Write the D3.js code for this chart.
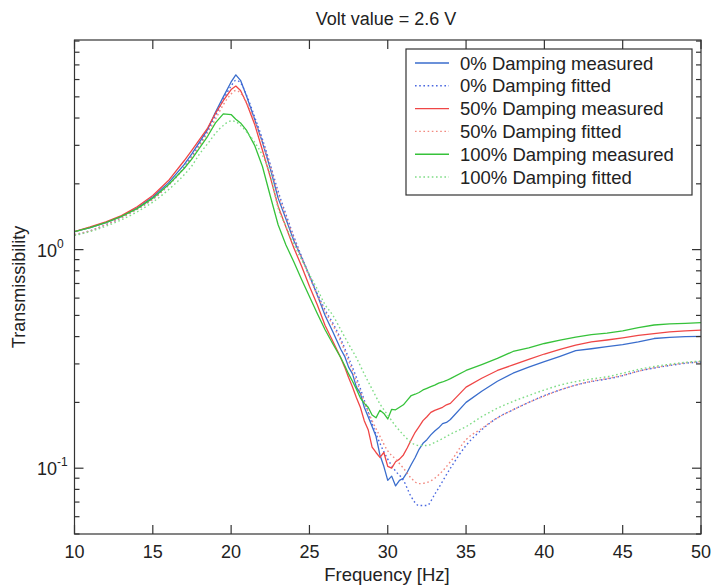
<!DOCTYPE html>
<html><head><meta charset="utf-8">
<script src="https://cdn.jsdelivr.net/npm/d3@7"></script>
<style>
body{margin:0;background:#fff;}
text{font-family:"Liberation Sans",Arial,Helvetica,sans-serif;fill:#222;}
</style></head>
<body><svg id="c" width="712" height="588"></svg>
<script>
const title = "Volt value = 2.6 V";
const xLabel = "Frequency [Hz]";
const yLabel = "Transmissibility";
const xTicks = [10,15,20,25,30,35,40,45,50];
const yMajor = [0.1, 1];
const yMinor = [0.05,0.06,0.07,0.08,0.09,0.2,0.3,0.4,0.5,0.6,0.7,0.8,0.9,2,3,4,5,6,7,8,9];

// frequencies for fitted curves
const freqF = [10,11,12,13,14,15,16,17,17.5,18,18.5,19,19.5,20,20.3,20.6,21,21.5,22,22.5,23,23.5,24,24.5,25,25.5,26,26.5,27,27.5,28,28.5,29,29.5,30,30.5,31,31.5,32,32.5,33,34,35,36,37,38,39,40,41,42,43,44,45,46,47,48,49,50];
// frequencies for measured curves (denser through the trough)
const freqM = [10,11,12,13,14,15,16,17,17.5,18,18.5,19,19.5,20,20.3,20.6,21,21.5,22,22.5,23,23.5,24,24.5,25,25.5,26,26.5,27,27.25,27.5,27.75,28,28.25,28.5,28.75,29,29.25,29.5,29.75,30,30.25,30.5,30.75,31,31.25,31.5,31.75,32,32.25,32.5,32.75,33,33.25,33.5,33.75,34,35,36,37,38,39,40,41,42,43,44,45,46,47,48,49,50];

const blueMeasured = [1.21,1.26,1.33,1.42,1.55,1.74,2.02,2.45,2.75,3.12,3.55,4.25,5.0,5.85,6.3,5.95,5.0,3.95,3.1,2.35,1.72,1.38,1.1,0.92,0.76,0.62,0.50,0.42,0.35,0.325,0.29,0.27,0.235,0.22,0.19,0.172,0.155,0.14,0.115,0.102,0.088,0.092,0.083,0.088,0.09,0.096,0.104,0.112,0.122,0.13,0.135,0.142,0.148,0.153,0.16,0.162,0.167,0.2,0.225,0.25,0.272,0.29,0.307,0.325,0.345,0.352,0.36,0.368,0.378,0.392,0.397,0.4,0.401];
const blueFitted = [1.17,1.22,1.3,1.4,1.53,1.7,1.97,2.38,2.68,3.05,3.5,4.1,4.85,5.6,5.95,5.8,5.05,4.05,3.2,2.45,1.85,1.45,1.15,0.93,0.76,0.63,0.53,0.46,0.39,0.32,0.26,0.205,0.16,0.13,0.11,0.097,0.088,0.074,0.0675,0.0675,0.076,0.1,0.127,0.15,0.17,0.185,0.2,0.215,0.228,0.24,0.249,0.256,0.265,0.278,0.287,0.295,0.302,0.306];
const redMeasured = [1.21,1.27,1.34,1.43,1.57,1.77,2.07,2.55,2.85,3.2,3.6,4.2,4.8,5.4,5.6,5.35,4.65,3.75,2.85,2.15,1.58,1.27,1.02,0.84,0.68,0.56,0.45,0.38,0.32,0.29,0.26,0.235,0.21,0.19,0.165,0.15,0.125,0.118,0.112,0.118,0.102,0.1,0.107,0.11,0.115,0.124,0.135,0.146,0.155,0.165,0.172,0.18,0.184,0.187,0.19,0.195,0.198,0.235,0.258,0.28,0.297,0.315,0.333,0.35,0.366,0.378,0.386,0.395,0.405,0.413,0.42,0.425,0.428];
const redFitted = [1.17,1.22,1.3,1.4,1.53,1.7,1.97,2.37,2.65,3.0,3.42,3.95,4.6,5.15,5.35,5.2,4.7,3.9,3.1,2.4,1.8,1.42,1.13,0.92,0.75,0.62,0.52,0.45,0.38,0.31,0.25,0.2,0.165,0.14,0.12,0.11,0.1,0.09,0.085,0.086,0.09,0.107,0.135,0.152,0.17,0.185,0.2,0.214,0.228,0.24,0.25,0.257,0.266,0.278,0.288,0.296,0.303,0.307];
const greenMeasured = [1.21,1.26,1.33,1.42,1.54,1.72,1.98,2.35,2.6,2.93,3.3,3.8,4.18,4.15,3.95,3.8,3.5,3.0,2.4,1.76,1.3,1.05,0.88,0.73,0.61,0.51,0.43,0.37,0.32,0.295,0.27,0.25,0.23,0.21,0.198,0.19,0.175,0.17,0.184,0.178,0.168,0.186,0.185,0.19,0.195,0.205,0.215,0.218,0.222,0.228,0.232,0.236,0.24,0.245,0.248,0.252,0.257,0.28,0.298,0.318,0.342,0.355,0.372,0.385,0.398,0.408,0.415,0.425,0.44,0.452,0.457,0.46,0.463];
const greenFitted = [1.16,1.21,1.28,1.37,1.49,1.65,1.88,2.2,2.42,2.75,3.05,3.4,3.7,3.88,3.85,3.7,3.45,3.1,2.7,2.2,1.55,1.28,1.06,0.9,0.77,0.66,0.56,0.5,0.43,0.37,0.32,0.27,0.23,0.197,0.175,0.156,0.142,0.131,0.127,0.127,0.131,0.143,0.155,0.172,0.188,0.202,0.215,0.228,0.24,0.249,0.256,0.262,0.272,0.283,0.292,0.299,0.305,0.309];

const seriesNames = ["0% Damping measured","0% Damping fitted","50% Damping measured","50% Damping fitted","100% Damping measured","100% Damping fitted"];
const seriesData = [blueMeasured, blueFitted, redMeasured, redFitted, greenMeasured, greenFitted];
const seriesColors = ["#3a6dcc","#4a68e0","#ef4646","#f28a80","#36c23a","#7fdc86"];
const seriesDashed = [false,true,false,true,false,true];

const L=74.5, R=701, T=40, B=534;
const svg = d3.select("#c");
const x = d3.scaleLinear().domain([10,50]).range([L,R]);
const y = d3.scaleLog().domain([0.05,9.1]).range([B,T]);

svg.append("defs").append("clipPath").attr("id","pc").append("rect")
  .attr("x",L).attr("y",T).attr("width",R-L).attr("height",B-T);
const g = svg.append("g").attr("clip-path","url(#pc)");
seriesData.forEach((vals,i)=>{
  const fr = seriesDashed[i] ? freqF : freqM;
  const line = d3.line().x((d,j)=>x(fr[j])).y(d=>y(d))
    .curve(seriesDashed[i]? d3.curveMonotoneX : d3.curveLinear);
  g.append("path").datum(vals).attr("d",line).attr("fill","none")
    .attr("stroke",seriesColors[i]).attr("stroke-width",seriesDashed[i]?1.4:1.3)
    .attr("stroke-linejoin","round")
    .attr("stroke-dasharray",seriesDashed[i]?"1.6,2.6":null);
});

const ax = svg.append("g").attr("stroke","#333").attr("stroke-width",1.2);
ax.append("rect").attr("x",L).attr("y",T).attr("width",R-L).attr("height",B-T).attr("fill","none");
xTicks.forEach(t=>{
  ax.append("line").attr("x1",x(t)).attr("x2",x(t)).attr("y1",B).attr("y2",B-9);
  ax.append("line").attr("x1",x(t)).attr("x2",x(t)).attr("y1",T).attr("y2",T+9);
});
yMajor.forEach(t=>{
  ax.append("line").attr("x1",L).attr("x2",L+9).attr("y1",y(t)).attr("y2",y(t));
  ax.append("line").attr("x1",R).attr("x2",R-9).attr("y1",y(t)).attr("y2",y(t));
});
yMinor.forEach(t=>{
  ax.append("line").attr("x1",L).attr("x2",L+5).attr("y1",y(t)).attr("y2",y(t));
  ax.append("line").attr("x1",R).attr("x2",R-5).attr("y1",y(t)).attr("y2",y(t));
});

xTicks.forEach(t=>{
  svg.append("text").attr("x",x(t)).attr("y",558).attr("text-anchor","middle")
    .attr("font-size",18).text(t);
});
const yLab = [{v:1,e:"0"},{v:0.1,e:"-1"}];
yLab.forEach(d=>{
  const tx = svg.append("text").attr("x",37).attr("y",y(d.v)+7).attr("font-size",18);
  tx.append("tspan").text("10");
  tx.append("tspan").attr("dy",-9).attr("font-size",12).text(d.e);
});

svg.append("text").attr("x",386).attr("y",25).attr("text-anchor","middle").attr("font-size",18).text(title);
svg.append("text").attr("x",387).attr("y",581).attr("text-anchor","middle").attr("font-size",18.5).text(xLabel);
svg.append("text").attr("transform","translate(25,"+((T+B)/2)+") rotate(-90)").attr("text-anchor","middle").attr("font-size",18).text(yLabel);

const lg = svg.append("g");
lg.append("rect").attr("x",406).attr("y",49).attr("width",286).attr("height",146)
  .attr("fill","#fff").attr("stroke","#333").attr("stroke-width",1.2);
seriesNames.forEach((n,i)=>{
  const yy = 63 + i*22.8;
  lg.append("line").attr("x1",415).attr("x2",449).attr("y1",yy).attr("y2",yy)
    .attr("stroke",seriesColors[i]).attr("stroke-width",1.4)
    .attr("stroke-dasharray",seriesDashed[i]?"1.6,2.6":null);
  lg.append("text").attr("x",460).attr("y",yy+6.5).attr("font-size",18.5).text(n);
});
</script></body></html>
